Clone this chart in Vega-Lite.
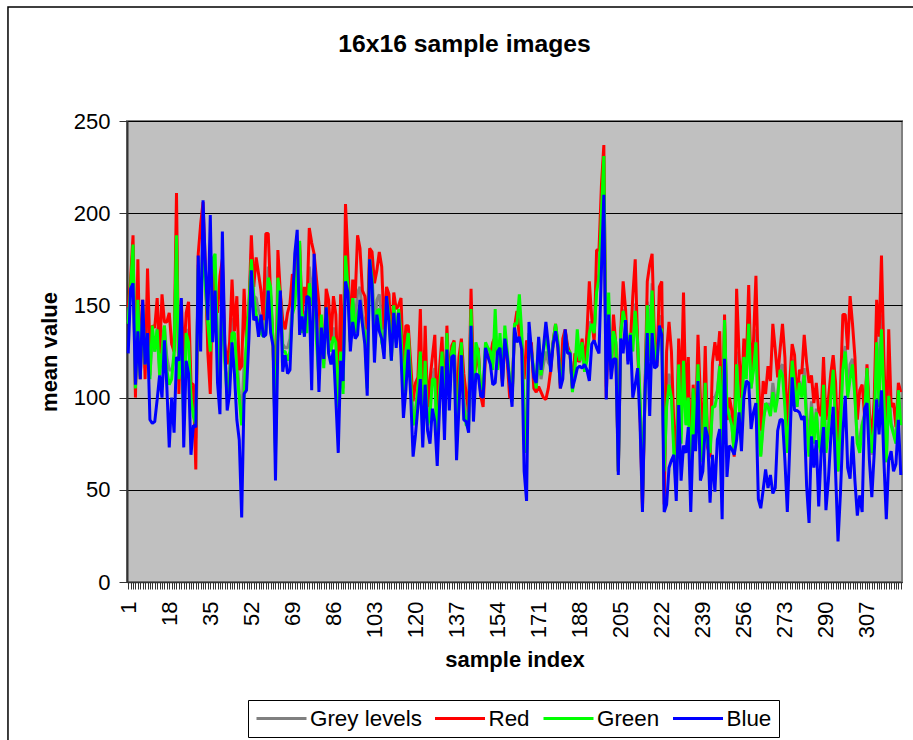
{"$schema":"https://vega.github.io/schema/vega-lite/v6.json","width":775,"height":461,"autosize":{"type":"none"},"padding":{"left":127,"top":121,"right":11,"bottom":158},"background":"white","title":{"text":"16x16 sample images","font":"Liberation Sans","fontSize":24.7,"fontWeight":"bold","color":"black","anchor":"middle","dx":-50,"offset":-50},"config":{"view":{"fill":"#C0C0C0","stroke":"#808080","strokeWidth":2},"axis":{"labelFont":"Liberation Sans","titleFont":"Liberation Sans"},"legend":{"labelFont":"Liberation Sans"}},"layer":[{"data":{"values":[
{"i":1,"Grey levels":141,"Red":149,"Green":140,"Blue":124},{"i":2,"Grey levels":161,"Red":164,"Green":160,"Blue":159},{"i":3,"Grey levels":182,"Red":188,"Green":183,"Blue":162},{"i":4,"Grey levels":104,"Red":100,"Green":105,"Blue":107},{"i":5,"Grey levels":158,"Red":175,"Green":153,"Blue":136},{"i":6,"Grey levels":111,"Red":110,"Green":112,"Blue":110},{"i":7,"Grey levels":151,"Red":153,"Green":150,"Blue":153},{"i":8,"Grey levels":116,"Red":110,"Green":118,"Blue":118},{"i":9,"Grey levels":145,"Red":170,"Green":135,"Blue":135},{"i":10,"Grey levels":112,"Red":126,"Green":110,"Blue":88},
{"i":11,"Grey levels":134,"Red":139,"Green":139,"Blue":86},{"i":12,"Grey levels":125,"Red":138,"Green":125,"Blue":87},{"i":13,"Grey levels":138,"Red":154,"Green":137,"Blue":99},{"i":14,"Grey levels":115,"Red":124,"Green":112,"Blue":112},{"i":15,"Grey levels":132,"Red":156,"Green":125,"Blue":100},{"i":16,"Grey levels":139,"Red":141,"Green":139,"Blue":131},{"i":17,"Grey levels":122,"Red":141,"Green":115,"Blue":106},{"i":18,"Grey levels":115,"Red":146,"Green":107,"Blue":73},{"i":19,"Grey levels":115,"Red":129,"Green":110,"Blue":100},{"i":20,"Grey levels":120,"Red":125,"Green":125,"Blue":81},
{"i":21,"Grey levels":187,"Red":211,"Green":188,"Blue":122},{"i":22,"Grey levels":109,"Red":102,"Green":110,"Blue":120},{"i":23,"Grey levels":140,"Red":153,"Green":130,"Blue":154},{"i":24,"Grey levels":94,"Red":120,"Green":85,"Blue":73},{"i":25,"Grey levels":137,"Red":146,"Green":135,"Blue":120},{"i":26,"Grey levels":135,"Red":152,"Green":130,"Blue":113},{"i":27,"Grey levels":99,"Red":108,"Green":100,"Blue":69},{"i":28,"Grey levels":95,"Red":107,"Green":90,"Blue":85},{"i":29,"Grey levels":78,"Red":61,"Green":85,"Blue":84},{"i":30,"Grey levels":172,"Red":178,"Green":170,"Blue":177},
{"i":31,"Grey levels":151,"Red":194,"Green":135,"Blue":125},{"i":32,"Grey levels":195,"Red":206,"Green":190,"Blue":207},{"i":33,"Grey levels":164,"Red":170,"Green":160,"Blue":170},{"i":34,"Grey levels":134,"Red":124,"Green":140,"Blue":142},{"i":35,"Grey levels":126,"Red":102,"Green":125,"Blue":199},{"i":36,"Grey levels":169,"Red":172,"Green":175,"Blue":130},{"i":37,"Grey levels":168,"Red":149,"Green":178,"Blue":158},{"i":38,"Grey levels":130,"Red":146,"Green":125,"Blue":108},{"i":39,"Grey levels":122,"Red":166,"Green":105,"Blue":91},{"i":40,"Grey levels":168,"Red":175,"Green":160,"Blue":190},
{"i":41,"Grey levels":122,"Red":129,"Green":120,"Blue":130},{"i":42,"Grey levels":106,"Red":118,"Green":100,"Blue":93},{"i":43,"Grey levels":115,"Red":130,"Green":110,"Blue":102},{"i":44,"Grey levels":143,"Red":164,"Green":135,"Blue":130},{"i":45,"Grey levels":133,"Red":136,"Green":135,"Blue":113},{"i":46,"Grey levels":125,"Red":155,"Green":115,"Blue":88},{"i":47,"Grey levels":102,"Red":115,"Green":100,"Blue":77},{"i":48,"Grey levels":90,"Red":117,"Green":85,"Blue":35},{"i":49,"Grey levels":118,"Red":159,"Green":100,"Blue":102},{"i":50,"Grey levels":128,"Red":129,"Green":132,"Blue":104},
{"i":51,"Grey levels":147,"Red":148,"Green":150,"Blue":132},{"i":52,"Grey levels":178,"Red":188,"Green":175,"Blue":169},{"i":53,"Grey levels":155,"Red":160,"Green":155,"Blue":142},{"i":54,"Grey levels":154,"Red":176,"Green":145,"Blue":144},{"i":55,"Grey levels":147,"Red":167,"Green":140,"Blue":133},{"i":56,"Grey levels":143,"Red":158,"Green":135,"Blue":145},{"i":57,"Grey levels":135,"Red":142,"Green":133,"Blue":133},{"i":58,"Grey levels":151,"Red":189,"Green":135,"Blue":134},{"i":59,"Grey levels":171,"Red":189,"Green":165,"Blue":158},{"i":60,"Grey levels":155,"Red":155,"Green":160,"Blue":135},
{"i":61,"Grey levels":130,"Red":129,"Green":130,"Blue":128},{"i":62,"Grey levels":70,"Red":75,"Green":70,"Blue":55},{"i":63,"Grey levels":166,"Red":180,"Green":165,"Blue":130},{"i":64,"Grey levels":156,"Red":157,"Green":155,"Blue":158},{"i":65,"Grey levels":129,"Red":142,"Green":125,"Blue":114},{"i":66,"Grey levels":127,"Red":137,"Green":125,"Blue":123},{"i":67,"Grey levels":127,"Red":146,"Green":120,"Blue":113},{"i":68,"Grey levels":132,"Red":151,"Green":125,"Blue":115},{"i":69,"Grey levels":152,"Red":167,"Green":145,"Blue":148},{"i":70,"Grey levels":155,"Red":164,"Green":150,"Blue":178},
{"i":71,"Grey levels":174,"Red":176,"Green":170,"Blue":191},{"i":72,"Grey levels":180,"Red":184,"Green":185,"Blue":134},{"i":73,"Grey levels":138,"Red":144,"Green":135,"Blue":144},{"i":74,"Grey levels":147,"Red":160,"Green":145,"Blue":133},{"i":75,"Grey levels":140,"Red":148,"Green":135,"Blue":155},{"i":76,"Grey levels":171,"Red":192,"Green":162,"Blue":154},{"i":77,"Grey levels":155,"Red":184,"Green":150,"Blue":104},{"i":78,"Grey levels":170,"Red":178,"Green":165,"Blue":178},{"i":79,"Grey levels":143,"Red":164,"Green":130,"Blue":145},{"i":80,"Grey levels":122,"Red":151,"Green":110,"Blue":103},
{"i":81,"Grey levels":138,"Red":124,"Green":145,"Blue":138},{"i":82,"Grey levels":118,"Red":120,"Green":116,"Blue":121},{"i":83,"Grey levels":152,"Red":159,"Green":149,"Blue":149},{"i":84,"Grey levels":136,"Red":153,"Green":130,"Blue":124},{"i":85,"Grey levels":126,"Red":131,"Green":125,"Blue":118},{"i":86,"Grey levels":138,"Red":155,"Green":133,"Blue":126},{"i":87,"Grey levels":132,"Red":145,"Green":130,"Blue":99},{"i":88,"Grey levels":93,"Red":101,"Green":95,"Blue":70},{"i":89,"Grey levels":134,"Red":156,"Green":125,"Blue":120},{"i":90,"Grey levels":105,"Red":110,"Green":102,"Blue":109},
{"i":91,"Grey levels":184,"Red":205,"Green":177,"Blue":163},{"i":92,"Grey levels":164,"Red":176,"Green":160,"Blue":157},{"i":93,"Grey levels":130,"Red":131,"Green":130,"Blue":125},{"i":94,"Grey levels":155,"Red":164,"Green":154,"Blue":141},{"i":95,"Grey levels":141,"Red":154,"Green":135,"Blue":132},{"i":96,"Grey levels":157,"Red":188,"Green":145,"Blue":134},{"i":97,"Grey levels":160,"Red":181,"Green":150,"Blue":153},{"i":98,"Grey levels":145,"Red":158,"Green":140,"Blue":140},{"i":99,"Grey levels":141,"Red":155,"Green":135,"Blue":129},{"i":100,"Grey levels":116,"Red":137,"Green":105,"Blue":101},
{"i":101,"Grey levels":177,"Red":181,"Green":175,"Blue":175},{"i":102,"Grey levels":168,"Red":179,"Green":165,"Blue":161},{"i":103,"Grey levels":137,"Red":162,"Green":125,"Blue":119},{"i":104,"Grey levels":153,"Red":169,"Green":147,"Blue":145},{"i":105,"Grey levels":156,"Red":179,"Green":148,"Blue":136},{"i":106,"Grey levels":143,"Red":171,"Green":130,"Blue":132},{"i":107,"Grey levels":128,"Red":137,"Green":125,"Blue":121},{"i":108,"Grey levels":156,"Red":160,"Green":155,"Blue":155},{"i":109,"Grey levels":148,"Red":156,"Green":145,"Blue":141},{"i":110,"Grey levels":122,"Red":129,"Green":120,"Blue":120},
{"i":111,"Grey levels":151,"Red":157,"Green":150,"Blue":146},{"i":112,"Grey levels":135,"Red":148,"Green":130,"Blue":127},{"i":113,"Grey levels":148,"Red":150,"Green":148,"Blue":146},{"i":114,"Grey levels":140,"Red":154,"Green":135,"Blue":123},{"i":115,"Grey levels":102,"Red":115,"Green":100,"Blue":89},{"i":116,"Grey levels":127,"Red":139,"Green":125,"Blue":104},{"i":117,"Grey levels":135,"Red":139,"Green":135,"Blue":126},{"i":118,"Grey levels":112,"Red":119,"Green":110,"Blue":101},{"i":119,"Grey levels":87,"Red":98,"Green":85,"Blue":68},{"i":120,"Grey levels":94,"Red":108,"Green":90,"Blue":80},
{"i":121,"Grey levels":105,"Red":111,"Green":105,"Blue":95},{"i":122,"Grey levels":130,"Red":148,"Green":125,"Blue":110},{"i":123,"Grey levels":81,"Red":88,"Green":80,"Blue":73},{"i":124,"Grey levels":124,"Red":139,"Green":120,"Blue":107},{"i":125,"Grey levels":87,"Red":95,"Green":85,"Blue":82},{"i":126,"Grey levels":94,"Red":110,"Green":90,"Blue":75},{"i":127,"Grey levels":112,"Red":122,"Green":110,"Blue":94},{"i":128,"Grey levels":116,"Red":134,"Green":110,"Blue":87},{"i":129,"Grey levels":76,"Red":92,"Green":72,"Blue":63},{"i":130,"Grey levels":106,"Red":117,"Green":105,"Blue":97},
{"i":131,"Grey levels":125,"Red":133,"Green":125,"Blue":117},{"i":132,"Grey levels":86,"Red":92,"Green":85,"Blue":77},{"i":133,"Grey levels":134,"Red":139,"Green":135,"Blue":126},{"i":134,"Grey levels":101,"Red":106,"Green":100,"Blue":93},{"i":135,"Grey levels":125,"Red":128,"Green":125,"Blue":122},{"i":136,"Grey levels":129,"Red":131,"Green":130,"Blue":123},{"i":137,"Grey levels":77,"Red":90,"Green":75,"Blue":66},{"i":138,"Grey levels":109,"Red":122,"Green":105,"Blue":95},{"i":139,"Grey levels":129,"Red":132,"Green":130,"Blue":123},{"i":140,"Grey levels":99,"Red":113,"Green":95,"Blue":88},
{"i":141,"Grey levels":90,"Red":102,"Green":85,"Blue":87},{"i":142,"Grey levels":86,"Red":92,"Green":85,"Blue":81},{"i":143,"Grey levels":150,"Red":159,"Green":148,"Blue":139},{"i":144,"Grey levels":99,"Red":110,"Green":95,"Blue":87},{"i":145,"Grey levels":125,"Red":117,"Green":130,"Blue":113},{"i":146,"Grey levels":124,"Red":127,"Green":125,"Blue":112},{"i":147,"Grey levels":103,"Red":101,"Green":105,"Blue":101},{"i":148,"Grey levels":102,"Red":95,"Green":105,"Blue":100},{"i":149,"Grey levels":128,"Red":124,"Green":130,"Blue":127},{"i":150,"Grey levels":125,"Red":123,"Green":127,"Blue":122},
{"i":151,"Grey levels":123,"Red":122,"Green":125,"Blue":118},{"i":152,"Grey levels":118,"Red":130,"Green":115,"Blue":107},{"i":153,"Grey levels":139,"Red":133,"Green":148,"Blue":108},{"i":154,"Grey levels":119,"Red":122,"Green":115,"Blue":125},{"i":155,"Grey levels":131,"Red":125,"Green":135,"Blue":127},{"i":156,"Grey levels":109,"Red":108,"Green":110,"Blue":106},{"i":157,"Grey levels":135,"Red":132,"Green":139,"Blue":132},{"i":158,"Grey levels":123,"Red":120,"Green":125,"Blue":122},{"i":159,"Grey levels":107,"Red":100,"Green":110,"Blue":108},{"i":160,"Grey levels":98,"Red":100,"Green":98,"Blue":95},
{"i":161,"Grey levels":139,"Red":138,"Green":140,"Blue":138},{"i":162,"Grey levels":141,"Red":147,"Green":140,"Blue":130},{"i":163,"Grey levels":148,"Red":133,"Green":156,"Blue":133},{"i":164,"Grey levels":132,"Red":128,"Green":135,"Blue":126},{"i":165,"Grey levels":85,"Red":110,"Green":90,"Blue":60},{"i":166,"Grey levels":87,"Red":131,"Green":70,"Blue":44},{"i":167,"Grey levels":134,"Red":125,"Green":135,"Blue":141},{"i":168,"Grey levels":127,"Red":130,"Green":125,"Blue":126},{"i":169,"Grey levels":110,"Red":105,"Green":115,"Blue":111},{"i":170,"Grey levels":105,"Red":103,"Green":105,"Blue":108},
{"i":171,"Grey levels":122,"Red":106,"Green":132,"Blue":133},{"i":172,"Grey levels":110,"Red":103,"Green":112,"Blue":115},{"i":173,"Grey levels":118,"Red":100,"Green":125,"Blue":127},{"i":174,"Grey levels":125,"Red":99,"Green":135,"Blue":141},{"i":175,"Grey levels":119,"Red":105,"Green":125,"Blue":129},{"i":176,"Grey levels":117,"Red":115,"Green":118,"Blue":114},{"i":177,"Grey levels":130,"Red":130,"Green":130,"Blue":129},{"i":178,"Grey levels":139,"Red":140,"Green":140,"Blue":136},{"i":179,"Grey levels":129,"Red":127,"Green":130,"Blue":127},{"i":180,"Grey levels":107,"Red":105,"Green":108,"Blue":105},
{"i":181,"Grey levels":120,"Red":132,"Green":115,"Blue":110},{"i":182,"Grey levels":136,"Red":137,"Green":135,"Blue":137},{"i":183,"Grey levels":126,"Red":128,"Green":125,"Blue":124},{"i":184,"Grey levels":124,"Red":124,"Green":125,"Blue":124},{"i":185,"Grey levels":104,"Red":105,"Green":103,"Blue":105},{"i":186,"Grey levels":117,"Red":124,"Green":115,"Blue":110},{"i":187,"Grey levels":129,"Red":120,"Green":137,"Blue":116},{"i":188,"Grey levels":119,"Red":120,"Green":120,"Blue":117},{"i":189,"Grey levels":129,"Red":132,"Green":130,"Blue":116},{"i":190,"Grey levels":115,"Red":118,"Green":114,"Blue":118},
{"i":191,"Grey levels":123,"Red":135,"Green":120,"Blue":115},{"i":192,"Grey levels":141,"Red":163,"Green":135,"Blue":109},{"i":193,"Grey levels":140,"Red":143,"Green":140,"Blue":129},{"i":194,"Grey levels":133,"Red":130,"Green":135,"Blue":131},{"i":195,"Grey levels":161,"Red":180,"Green":157,"Blue":127},{"i":196,"Grey levels":167,"Red":180,"Green":165,"Blue":124},{"i":197,"Grey levels":201,"Red":215,"Green":200,"Blue":169},{"i":198,"Grey levels":231,"Red":237,"Green":231,"Blue":210},{"i":199,"Grey levels":106,"Red":100,"Green":110,"Blue":99},{"i":200,"Grey levels":152,"Red":146,"Green":157,"Blue":145},
{"i":201,"Grey levels":114,"Red":115,"Green":115,"Blue":110},{"i":202,"Grey levels":137,"Red":145,"Green":136,"Blue":121},{"i":203,"Grey levels":128,"Red":128,"Green":130,"Blue":121},{"i":204,"Grey levels":60,"Red":60,"Green":60,"Blue":58},{"i":205,"Grey levels":135,"Red":135,"Green":135,"Blue":132},{"i":206,"Grey levels":148,"Red":163,"Green":147,"Blue":124},{"i":207,"Grey levels":143,"Red":148,"Green":140,"Blue":142},{"i":208,"Grey levels":122,"Red":120,"Green":125,"Blue":118},{"i":209,"Grey levels":133,"Red":130,"Green":135,"Blue":134},{"i":210,"Grey levels":131,"Red":155,"Green":125,"Blue":100},
{"i":211,"Grey levels":151,"Red":175,"Green":147,"Blue":107},{"i":212,"Grey levels":127,"Red":130,"Green":130,"Blue":116},{"i":213,"Grey levels":96,"Red":90,"Green":100,"Blue":86},{"i":214,"Grey levels":43,"Red":40,"Green":45,"Blue":38},{"i":215,"Grey levels":100,"Red":100,"Green":100,"Blue":100},{"i":216,"Grey levels":152,"Red":163,"Green":150,"Blue":135},{"i":217,"Grey levels":135,"Red":172,"Green":120,"Blue":90},{"i":218,"Grey levels":162,"Red":178,"Green":158,"Blue":135},{"i":219,"Grey levels":125,"Red":130,"Green":125,"Blue":116},{"i":220,"Grey levels":119,"Red":117,"Green":120,"Blue":117},
{"i":221,"Grey levels":144,"Red":160,"Green":137,"Blue":139},{"i":222,"Grey levels":144,"Red":163,"Green":137,"Blue":134},{"i":223,"Grey levels":52,"Red":42,"Green":60,"Blue":38},{"i":224,"Grey levels":100,"Red":125,"Green":95,"Blue":42},{"i":225,"Grey levels":113,"Red":141,"Green":107,"Blue":62},{"i":226,"Grey levels":104,"Red":125,"Green":100,"Blue":66},{"i":227,"Grey levels":75,"Red":85,"Green":70,"Blue":69},{"i":228,"Grey levels":55,"Red":65,"Green":50,"Blue":44},{"i":229,"Grey levels":121,"Red":132,"Green":118,"Blue":96},{"i":230,"Grey levels":80,"Red":100,"Green":75,"Blue":55},
{"i":231,"Grey levels":126,"Red":157,"Green":120,"Blue":74},{"i":232,"Grey levels":86,"Red":95,"Green":85,"Blue":70},{"i":233,"Grey levels":104,"Red":122,"Green":100,"Blue":84},{"i":234,"Grey levels":51,"Red":60,"Green":50,"Blue":38},{"i":235,"Grey levels":103,"Red":107,"Green":105,"Blue":80},{"i":236,"Grey levels":75,"Red":80,"Green":75,"Blue":71},{"i":237,"Grey levels":122,"Red":134,"Green":118,"Blue":109},{"i":238,"Grey levels":84,"Red":100,"Green":80,"Blue":55},{"i":239,"Grey levels":68,"Red":77,"Green":65,"Blue":60},{"i":240,"Grey levels":112,"Red":128,"Green":108,"Blue":84},
{"i":241,"Grey levels":74,"Red":73,"Green":75,"Blue":79},{"i":242,"Grey levels":67,"Red":68,"Green":70,"Blue":43},{"i":243,"Grey levels":100,"Red":119,"Green":95,"Blue":69},{"i":244,"Grey levels":100,"Red":130,"Green":95,"Blue":49},{"i":245,"Grey levels":104,"Red":120,"Green":102,"Blue":77},{"i":246,"Grey levels":118,"Red":136,"Green":117,"Blue":83},{"i":247,"Grey levels":69,"Red":77,"Green":70,"Blue":34},{"i":248,"Grey levels":141,"Red":145,"Green":142,"Blue":121},{"i":249,"Grey levels":88,"Red":88,"Green":95,"Blue":57},{"i":250,"Grey levels":90,"Red":100,"Green":90,"Blue":74},
{"i":251,"Grey levels":86,"Red":93,"Green":85,"Blue":72},{"i":252,"Grey levels":69,"Red":68,"Green":70,"Blue":69},{"i":253,"Grey levels":125,"Red":159,"Green":118,"Blue":77},{"i":254,"Grey levels":104,"Red":124,"Green":95,"Blue":92},{"i":255,"Grey levels":88,"Red":100,"Green":85,"Blue":71},{"i":256,"Grey levels":123,"Red":132,"Green":122,"Blue":100},{"i":257,"Grey levels":112,"Red":117,"Green":110,"Blue":109},{"i":258,"Grey levels":143,"Red":161,"Green":140,"Blue":108},{"i":259,"Grey levels":105,"Red":113,"Green":105,"Blue":83},{"i":260,"Grey levels":118,"Red":131,"Green":115,"Blue":92},
{"i":261,"Grey levels":137,"Red":166,"Green":130,"Blue":97},{"i":262,"Grey levels":89,"Red":113,"Green":85,"Blue":45},{"i":263,"Grey levels":69,"Red":82,"Green":68,"Blue":40},{"i":264,"Grey levels":89,"Red":109,"Green":85,"Blue":50},{"i":265,"Grey levels":94,"Red":102,"Green":97,"Blue":61},{"i":266,"Grey levels":97,"Red":117,"Green":95,"Blue":51},{"i":267,"Grey levels":92,"Red":109,"Green":90,"Blue":58},{"i":268,"Grey levels":108,"Red":140,"Green":103,"Blue":48},{"i":269,"Grey levels":98,"Red":126,"Green":92,"Blue":51},{"i":270,"Grey levels":102,"Red":111,"Green":100,"Blue":82},
{"i":271,"Grey levels":116,"Red":126,"Green":115,"Blue":88},{"i":272,"Grey levels":118,"Red":140,"Green":112,"Blue":88},{"i":273,"Grey levels":100,"Red":122,"Green":95,"Blue":66},{"i":274,"Grey levels":70,"Red":82,"Green":70,"Blue":38},{"i":275,"Grey levels":93,"Red":108,"Green":90,"Blue":73},{"i":276,"Grey levels":121,"Red":129,"Green":120,"Blue":111},{"i":277,"Grey levels":110,"Red":123,"Green":108,"Blue":93},{"i":278,"Grey levels":95,"Red":97,"Green":95,"Blue":93},{"i":279,"Grey levels":109,"Red":115,"Green":108,"Blue":92},{"i":280,"Grey levels":102,"Red":113,"Green":100,"Blue":88},
{"i":281,"Grey levels":116,"Red":134,"Green":112,"Blue":90},{"i":282,"Grey levels":92,"Red":119,"Green":85,"Blue":52},{"i":283,"Grey levels":76,"Red":108,"Green":68,"Blue":32},{"i":284,"Grey levels":98,"Red":112,"Green":95,"Blue":79},{"i":285,"Grey levels":78,"Red":97,"Green":75,"Blue":62},{"i":286,"Grey levels":94,"Red":108,"Green":92,"Blue":77},{"i":287,"Grey levels":75,"Red":93,"Green":75,"Blue":41},{"i":288,"Grey levels":74,"Red":90,"Green":70,"Blue":70},{"i":289,"Grey levels":110,"Red":122,"Green":107,"Blue":84},{"i":290,"Grey levels":72,"Red":88,"Green":70,"Blue":39},
{"i":291,"Grey levels":84,"Red":99,"Green":82,"Blue":55},{"i":292,"Grey levels":100,"Red":113,"Green":100,"Blue":78},{"i":293,"Grey levels":114,"Red":123,"Green":115,"Blue":95},{"i":294,"Grey levels":89,"Red":108,"Green":85,"Blue":59},{"i":295,"Grey levels":60,"Red":70,"Green":60,"Blue":22},{"i":296,"Grey levels":87,"Red":104,"Green":85,"Blue":48},{"i":297,"Grey levels":120,"Red":145,"Green":115,"Blue":81},{"i":298,"Grey levels":128,"Red":145,"Green":125,"Blue":101},{"i":299,"Grey levels":104,"Red":126,"Green":100,"Blue":62},{"i":300,"Grey levels":118,"Red":155,"Green":110,"Blue":56},
{"i":301,"Grey levels":121,"Red":140,"Green":118,"Blue":79},{"i":302,"Grey levels":102,"Red":122,"Green":100,"Blue":55},{"i":303,"Grey levels":75,"Red":88,"Green":75,"Blue":36},{"i":304,"Grey levels":78,"Red":104,"Green":70,"Blue":47},{"i":305,"Grey levels":86,"Red":107,"Green":85,"Blue":38},{"i":306,"Grey levels":91,"Red":90,"Green":90,"Blue":94},{"i":307,"Grey levels":114,"Red":118,"Green":116,"Blue":97},{"i":308,"Grey levels":85,"Red":92,"Green":85,"Blue":66},{"i":309,"Grey levels":69,"Red":77,"Green":70,"Blue":46},{"i":310,"Grey levels":87,"Red":99,"Green":85,"Blue":70},
{"i":311,"Grey levels":134,"Red":153,"Green":130,"Blue":99},{"i":312,"Grey levels":105,"Red":133,"Green":95,"Blue":80},{"i":313,"Grey levels":145,"Red":177,"Green":137,"Blue":104},{"i":314,"Grey levels":102,"Red":122,"Green":100,"Blue":66},{"i":315,"Grey levels":65,"Red":77,"Green":65,"Blue":34},{"i":316,"Grey levels":108,"Red":137,"Green":101,"Blue":66},{"i":317,"Grey levels":86,"Red":95,"Green":85,"Blue":71},{"i":318,"Grey levels":82,"Red":97,"Green":80,"Blue":60},{"i":319,"Grey levels":76,"Red":84,"Green":75,"Blue":64},{"i":320,"Grey levels":104,"Red":108,"Green":104,"Blue":88},{"i":321,"Grey levels":88,"Red":103,"Green":85,"Blue":58}
]},"transform":[{"fold":["Grey levels","Red","Green","Blue"],"as":["series","value"]}],"mark":{"type":"line","strokeWidth":3,"strokeJoin":"bevel"},"encoding":{"x":{"field":"i","type":"quantitative","scale":{"domain":[0.5,321.5],"nice":false,"zero":false},"axis":{"tickCount":400,"values":[1,2,3,4,5,6,7,8,9,10,11,12,13,14,15,16,17,18,19,20,21,22,23,24,25,26,27,28,29,30,31,32,33,34,35,36,37,38,39,40,41,42,43,44,45,46,47,48,49,50,51,52,53,54,55,56,57,58,59,60,61,62,63,64,65,66,67,68,69,70,71,72,73,74,75,76,77,78,79,80,81,82,83,84,85,86,87,88,89,90,91,92,93,94,95,96,97,98,99,100,101,102,103,104,105,106,107,108,109,110,111,112,113,114,115,116,117,118,119,120,121,122,123,124,125,126,127,128,129,130,131,132,133,134,135,136,137,138,139,140,141,142,143,144,145,146,147,148,149,150,151,152,153,154,155,156,157,158,159,160,161,162,163,164,165,166,167,168,169,170,171,172,173,174,175,176,177,178,179,180,181,182,183,184,185,186,187,188,189,190,191,192,193,194,195,196,197,198,199,200,201,202,203,204,205,206,207,208,209,210,211,212,213,214,215,216,217,218,219,220,221,222,223,224,225,226,227,228,229,230,231,232,233,234,235,236,237,238,239,240,241,242,243,244,245,246,247,248,249,250,251,252,253,254,255,256,257,258,259,260,261,262,263,264,265,266,267,268,269,270,271,272,273,274,275,276,277,278,279,280,281,282,283,284,285,286,287,288,289,290,291,292,293,294,295,296,297,298,299,300,301,302,303,304,305,306,307,308,309,310,311,312,313,314,315,316,317,318,319,320,321],"labelExpr":"(datum.value-1)%17==0 && datum.value<320 ? datum.value : ''","format":"d","labelAngle":270,"labelAlign":"right","labelBaseline":"middle","labelFontSize":22,"labelColor":"black","labelOverlap":false,"labelPadding":12,"labelFlush":false,"tickSize":7,"tickColor":"#333333","tickWidth":1,"domainColor":"#333333","domainWidth":1.5,"grid":false,"title":"sample index","titleFontSize":22,"titleFontWeight":"bold","titleColor":"black","titlePadding":12}},"y":{"field":"value","type":"quantitative","scale":{"domain":[0,250],"nice":false},"axis":{"values":[0,50,100,150,200,250],"labelFontSize":22,"labelColor":"black","labelPadding":9,"tickSize":8,"tickColor":"#333333","domainColor":"#333333","domainWidth":2,"grid":true,"gridColor":"black","gridWidth":1,"title":"mean value","titleFontSize":22,"titleFontWeight":"bold","titleColor":"black","titlePadding":12}},"color":{"field":"series","type":"nominal","scale":{"domain":["Grey levels","Red","Green","Blue"],"range":["#808080","#FF0000","#00FF00","#0000FF"]},"legend":{"orient":"none","legendX":121,"legendY":579,"direction":"horizontal","columns":4,"title":null,"fillColor":"white","strokeColor":"black","padding":7,"symbolType":"M-1,0H4","symbolSize":400,"symbolStrokeWidth":3,"labelFontSize":22.4,"labelColor":"black","labelOffset":32,"columnPadding":6.5}}}},{"data":{"values":[{"xa":-48.8,"xb":345,"ya":-120,"yb":311.8}]},"mark":{"type":"rect","fill":"transparent","stroke":"black","strokeWidth":1.5},"encoding":{"x":{"field":"xa","type":"quantitative"},"x2":{"field":"xb"},"y":{"field":"ya","type":"quantitative"},"y2":{"field":"yb"}}}]}
